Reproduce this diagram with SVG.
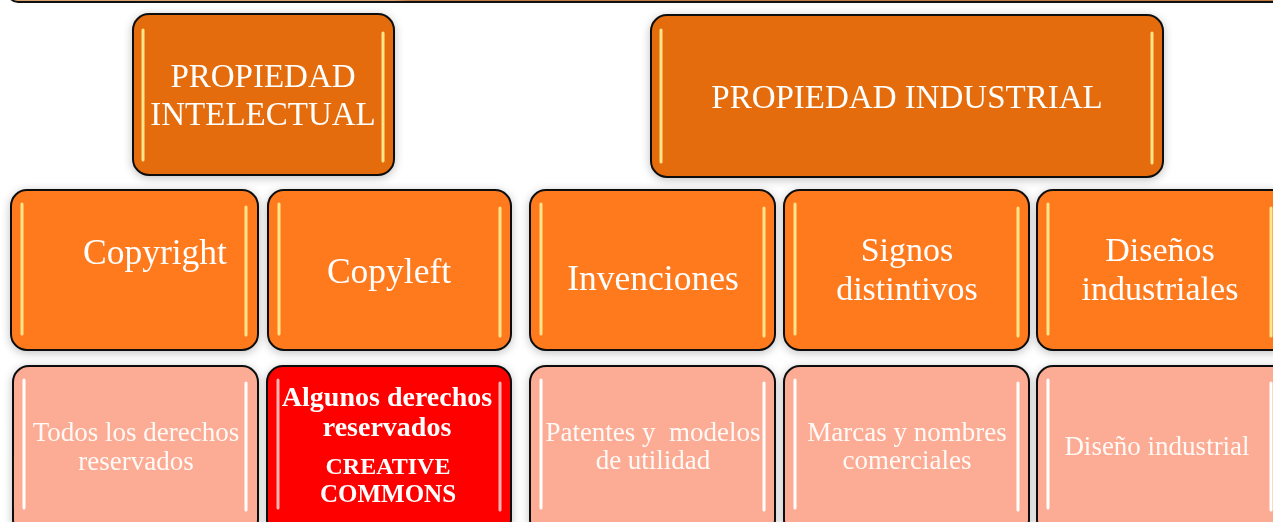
<svg xmlns="http://www.w3.org/2000/svg" width="1273" height="522" viewBox="0 0 1273 522">
<style>
.box{stroke:#111;stroke-width:2}
.dk{fill:#e46c0a}
.md{fill:#fe7a1f}
.lt{fill:#fcac94}
.rd{fill:#ff0000}
.hl{stroke:#ffe58a;stroke-width:3;stroke-linecap:round}
.hw{stroke:#ffffff;stroke-width:3;stroke-linecap:round}
.t{font-family:"Liberation Serif",serif;fill:#ffffff;text-anchor:middle}
.t32{font-size:33px}
.t34{font-size:35.5px}
.t2l{font-size:34px}
.t26{font-size:27px;fill:#fffaf7}
.b{font-weight:bold}
</style>
<defs>
<filter id="sh" x="-10%" y="-10%" width="120%" height="120%">
<feGaussianBlur in="SourceAlpha" stdDeviation="5"/>
<feOffset dx="0" dy="2"/>
<feComponentTransfer><feFuncA type="linear" slope="0.25"/></feComponentTransfer>
<feMerge><feMergeNode/><feMergeNode in="SourceGraphic"/></feMerge>
</filter>
<linearGradient id="topg" x1="0" y1="0" x2="1" y2="0">
<stop offset="0" stop-color="#d9a070"/><stop offset="0.3" stop-color="#d9a070"/><stop offset="0.31" stop-color="#c07a40"/><stop offset="1" stop-color="#c07a40"/>
</linearGradient>
</defs>
<rect width="1273" height="522" fill="#ffffff"/>
<g id="connectors"></g>
<g id="top-strip"><rect class="box" x="8" y="-30" width="1290" height="32" rx="10" fill="url(#topg)"/></g>

<g id="n-intelectual" filter="url(#sh)">
<rect class="box dk" x="133" y="14" width="261" height="161" rx="16"/>
<line class="hl" x1="143" y1="30" x2="143" y2="160"/>
<line class="hl" x1="383" y1="33" x2="383" y2="161"/>
<text class="t t32" x="263" y="87">PROPIEDAD</text>
<text class="t t32" x="263" y="125">INTELECTUAL</text>
</g>

<g id="n-industrial" filter="url(#sh)">
<rect class="box dk" x="651" y="15" width="512" height="162" rx="16"/>
<line class="hl" x1="661" y1="30" x2="661" y2="162"/>
<line class="hl" x1="1152" y1="33" x2="1152" y2="163"/>
<text class="t t32" x="907" y="108">PROPIEDAD INDUSTRIAL</text>
</g>

<g id="n-copyright" filter="url(#sh)">
<rect class="box md" x="11" y="190" width="247" height="160" rx="16"/>
<line class="hl" x1="22" y1="204" x2="22" y2="334"/>
<line class="hl" x1="246" y1="207" x2="246" y2="335"/>
<text class="t t34" x="155" y="264">Copyright</text>
</g>

<g id="n-copyleft" filter="url(#sh)">
<rect class="box md" x="268" y="190" width="243" height="160" rx="16"/>
<line class="hl" x1="279" y1="204" x2="279" y2="334"/>
<line class="hl" x1="500" y1="208" x2="500" y2="336"/>
<text class="t t34" x="389" y="283">Copyleft</text>
</g>

<g id="n-invenciones" filter="url(#sh)">
<rect class="box md" x="530" y="190" width="245" height="160" rx="16"/>
<line class="hl" x1="541" y1="204" x2="541" y2="334"/>
<line class="hl" x1="764" y1="208" x2="764" y2="336"/>
<text class="t t34" x="653" y="290">Invenciones</text>
</g>

<g id="n-signos" filter="url(#sh)">
<rect class="box md" x="784" y="190" width="245" height="160" rx="16"/>
<line class="hl" x1="795" y1="204" x2="795" y2="334"/>
<line class="hl" x1="1018" y1="208" x2="1018" y2="336"/>
<text class="t t2l" x="907" y="261">Signos</text>
<text class="t t2l" x="907" y="300">distintivos</text>
</g>

<g id="n-disenos" filter="url(#sh)">
<rect class="box md" x="1037" y="190" width="260" height="160" rx="16"/>
<line class="hl" x1="1048" y1="204" x2="1048" y2="334"/>
<line class="hl" x1="1271" y1="208" x2="1271" y2="336"/>
<text class="t t2l" x="1160" y="261">Diseños</text>
<text class="t t2l" x="1160" y="300">industriales</text>
</g>

<g id="n-todos" filter="url(#sh)">
<rect class="box lt" x="13" y="366" width="245" height="170" rx="16"/>
<line class="hw" x1="24" y1="380" x2="24" y2="508"/>
<line class="hw" x1="246" y1="383" x2="246" y2="510"/>
<text class="t t26" x="136" y="441">Todos los derechos</text>
<text class="t t26" x="136" y="470">reservados</text>
</g>

<g id="n-algunos" filter="url(#sh)">
<rect class="box rd" x="267" y="366" width="244" height="170" rx="16"/>
<line class="hw" x1="278" y1="380" x2="278" y2="508" opacity="0.7"/>
<line class="hw" x1="500" y1="383" x2="500" y2="510" opacity="0.7"/>
<text class="t b" x="387" y="406" font-size="28">Algunos derechos</text>
<text class="t b" x="387" y="436" font-size="28">reservados</text>
<text class="t b" x="388" y="474" font-size="24">CREATIVE</text>
<text class="t b" x="388" y="502" font-size="25">COMMONS</text>
</g>

<g id="n-patentes" filter="url(#sh)">
<rect class="box lt" x="530" y="366" width="245" height="170" rx="16"/>
<line class="hw" x1="541" y1="380" x2="541" y2="508"/>
<line class="hw" x1="764" y1="383" x2="764" y2="510"/>
<text class="t t26" x="653" y="441">Patentes y&#160; modelos</text>
<text class="t t26" x="653" y="469">de utilidad</text>
</g>

<g id="n-marcas" filter="url(#sh)">
<rect class="box lt" x="784" y="366" width="245" height="170" rx="16"/>
<line class="hw" x1="795" y1="380" x2="795" y2="508"/>
<line class="hw" x1="1018" y1="383" x2="1018" y2="510"/>
<text class="t t26" x="907" y="441">Marcas y nombres</text>
<text class="t t26" x="907" y="469">comerciales</text>
</g>

<g id="n-diseno" filter="url(#sh)">
<rect class="box lt" x="1037" y="366" width="260" height="170" rx="16"/>
<line class="hw" x1="1048" y1="380" x2="1048" y2="508"/>
<line class="hw" x1="1271" y1="383" x2="1271" y2="510"/>
<text class="t t26" x="1157" y="455">Diseño industrial</text>
</g>
</svg>
